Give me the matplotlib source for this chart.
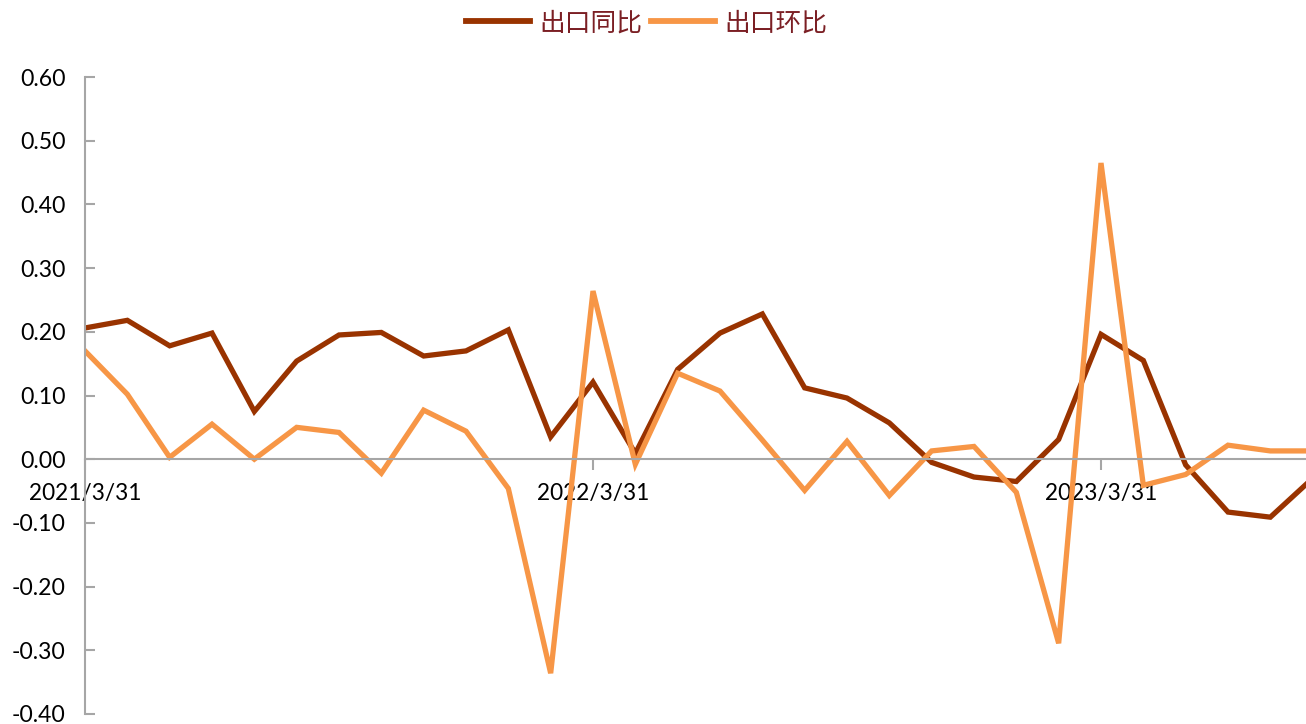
import matplotlib
matplotlib.use("Agg")
import matplotlib.pyplot as plt
from matplotlib.ticker import FixedLocator, FuncFormatter

dates = ["2021/3/31", "2021/4/30", "2021/5/31", "2021/6/30", "2021/7/31", "2021/8/31",
         "2021/9/30", "2021/10/31", "2021/11/30", "2021/12/31", "2022/1/31", "2022/2/28",
         "2022/3/31", "2022/4/30", "2022/5/31", "2022/6/30", "2022/7/31", "2022/8/31",
         "2022/9/30", "2022/10/31", "2022/11/30", "2022/12/31", "2023/1/31", "2023/2/28",
         "2023/3/31", "2023/4/30", "2023/5/31", "2023/6/30", "2023/7/31", "2023/8/31"]

yoy = [0.206, 0.218, 0.178, 0.198, 0.075, 0.154, 0.195, 0.199, 0.162, 0.170, 0.203, 0.035,
       0.121, 0.009, 0.141, 0.198, 0.228, 0.112, 0.096, 0.057, -0.005, -0.028, -0.035, 0.031,
       0.196, 0.155, -0.009, -0.083, -0.091, -0.030]
mom = [0.170, 0.102, 0.003, 0.055, 0.000, 0.050, 0.042, -0.022, 0.077, 0.044, -0.046, -0.336,
       0.264, -0.008, 0.135, 0.107, 0.030, -0.049, 0.028, -0.057, 0.013, 0.020, -0.052, -0.289,
       0.465, -0.041, -0.024, 0.022, 0.013, 0.013]

tick_labels = ["2021/3/31", "2022/3/31", "2023/3/31"]
series_names = ["出口同比", "出口环比"]

x = list(range(len(dates)))
tick_pos = [dates.index(t) for t in tick_labels]

fig = plt.figure(figsize=(13.06, 7.24), dpi=100)
ax = fig.add_axes([85/1306, 1-714/724, 1-85/1306, (714-77)/724])

c1 = "#993300"
c2 = "#F79646"
l1, = ax.plot(x, yoy, color=c1, lw=3.8, solid_joinstyle="miter", label=series_names[0])
l2, = ax.plot(x, mom, color=c2, lw=3.8, solid_joinstyle="miter", label=series_names[1])

ax.set_xlim(0, (1306-85)/(508/12))
ax.set_ylim(-0.40, 0.60)
ax.yaxis.set_major_locator(FixedLocator([-0.4, -0.3, -0.2, -0.1, 0, 0.1, 0.2, 0.3, 0.4, 0.5, 0.6]))
ax.yaxis.set_major_formatter(FuncFormatter(lambda v, p: f"{v:.2f}"))
ax.set_xticks(tick_pos)
ax.set_xticklabels(tick_labels)

for s in ["top", "right"]:
    ax.spines[s].set_visible(False)
ax.spines["bottom"].set_position(("data", 0))
ax.spines["bottom"].set_color("#A6A6A6")
ax.spines["left"].set_color("#A6A6A6")
ax.spines["bottom"].set_linewidth(1.5)
ax.spines["left"].set_linewidth(1.5)
ax.set_axisbelow(True)

ax.tick_params(axis="y", direction="in", length=7, width=1.5, color="#A6A6A6",
               labelsize=16.6, pad=14, labelcolor="black")
ax.tick_params(axis="x", direction="out", length=8, width=1.5, color="#A6A6A6",
               labelsize=16.3, pad=9, labelcolor="black")
for lab in ax.get_xticklabels() + ax.get_yticklabels():
    lab.set_family(["Lato", "DejaVu Sans"])

leg = fig.legend(handles=[l1, l2], labels=series_names, loc="upper center",
                 bbox_to_anchor=(0.495, 1.018), ncol=2, frameon=False,
                 handlelength=2.5, handletextpad=0.35, columnspacing=0.35,
                 prop={"family": ["Noto Sans CJK SC", "DejaVu Sans"], "size": 18.5})
for t in leg.get_texts():
    t.set_color("#7B1F24")
for h in leg.legend_handles:
    h.set_linewidth(4.2)

fig.savefig("out.png", dpi=100)
